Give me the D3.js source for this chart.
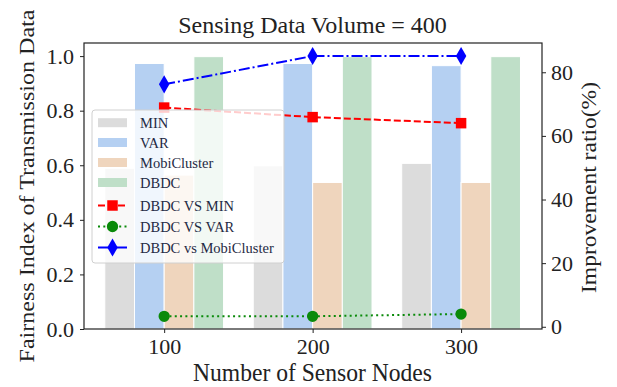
<!DOCTYPE html>
<html>
<head>
<meta charset="utf-8">
<script src="https://cdn.jsdelivr.net/npm/d3@7"></script>
<style>
  body { margin: 0; background: #fff; }
  svg { font-family: "Liberation Serif", "Times New Roman", serif; }
</style>
</head>
<body>
<svg id="chart" width="617" height="387"></svg>
<script>
// categories on the x axis
const nodes = ["100", "200", "300"];

// bar series (left axis, fairness index)
const barNames = ["MIN", "VAR", "MobiCluster", "DBDC"];
const minVals = [0.589, 0.598, 0.607];
const varVals = [0.973, 0.973, 0.965];
const mobiVals = [0.564, 0.537, 0.537];
const dbdcVals = [0.998, 0.998, 0.998];
const barColors = ["#dcdcdc", "#b5d0f2", "#efd5bd", "#bfdfc8"];

// line series (right axis, improvement ratio %)
const vsMin = [68.9, 65.9, 64.0];
const vsVar = [3.3, 3.3, 4.0];
const vsMobi = [76.2, 85.1, 85.1];
const lineNames = ["DBDC VS MIN", "DBDC VS VAR", "DBDC vs MobiCluster"];

const leftTicks = [0.0, 0.2, 0.4, 0.6, 0.8, 1.0];
const rightTicks = [0, 20, 40, 60, 80];

const svg = d3.select("#chart");
const pLeft = 84, pRight = 542, pTop = 43, pBottom = 329;
const serif = "Liberation Serif, Times New Roman, serif";
const ink = "#222";

// x as a continuous index so bars can sit around each tick
const x = d3.scaleLinear().domain([-0.54, 2.545]).range([pLeft, pRight]);
const y = d3.scaleLinear().domain([0, 1.048]).range([pBottom, pTop]);
const y2 = d3.scaleLinear().domain([-0.7, 89.2]).range([pBottom, pTop]);

const barW = 0.2;
const barSeries = [minVals, varVals, mobiVals, dbdcVals];

barSeries.forEach((vals, k) => {
  svg.append("g")
    .selectAll("rect")
    .data(vals)
    .join("rect")
    .attr("x", (d, i) => x(i + (k - 2) * barW))
    .attr("width", x(barW) - x(0))
    .attr("y", d => y(d))
    .attr("height", d => y(0) - y(d))
    .attr("fill", barColors[k])
    .attr("stroke", "#fff")
    .attr("stroke-width", 1);
});

// axes
const gLeft = svg.append("g").attr("transform", `translate(${pLeft},0)`)
  .call(d3.axisLeft(y).tickValues(leftTicks).tickFormat(d3.format(".1f")).tickSize(4).tickPadding(6));
const gRight = svg.append("g").attr("transform", `translate(${pRight},0)`)
  .call(d3.axisRight(y2).tickValues(rightTicks).tickSize(4).tickPadding(5));
const gBottom = svg.append("g").attr("transform", `translate(0,${pBottom})`)
  .call(d3.axisBottom(x).tickValues([0, 1, 2]).tickFormat(i => nodes[i]).tickSize(4).tickPadding(5));

[gLeft, gRight, gBottom].forEach(g => {
  g.attr("font-family", null).attr("font-size", null);
  g.selectAll("text").style("font-family", serif).style("font-size", "22px").attr("fill", ink);
  g.selectAll("line").attr("stroke", ink);
  g.select(".domain").remove();
});

// frame
svg.append("rect")
  .attr("x", pLeft).attr("y", pTop)
  .attr("width", pRight - pLeft).attr("height", pBottom - pTop)
  .attr("fill", "none").attr("stroke", ink).attr("stroke-width", 1.2);

// lines on the twin axis
const line = d3.line().x((d, i) => x(i)).y(d => y2(d));

svg.append("path").datum(vsMin).attr("d", line)
  .attr("fill", "none").attr("stroke", "#ff0000").attr("stroke-width", 2)
  .attr("stroke-dasharray", "7,3");
svg.append("path").datum(vsVar).attr("d", line)
  .attr("fill", "none").attr("stroke", "#0a8a0a").attr("stroke-width", 2)
  .attr("stroke-dasharray", "2,3.3");
svg.append("path").datum(vsMobi).attr("d", line)
  .attr("fill", "none").attr("stroke", "#0000ff").attr("stroke-width", 2)
  .attr("stroke-dasharray", "11,3,2,3");

const sq = d3.symbol().type(d3.symbolSquare).size(110);
const ci = d3.symbol().type(d3.symbolCircle).size(100);
const di = d3.symbol().type(d3.symbolDiamond).size(95);

svg.append("g").selectAll("path").data(vsMin).join("path")
  .attr("d", sq).attr("transform", (d, i) => `translate(${x(i)},${y2(d)})`).attr("fill", "#ff0000");
svg.append("g").selectAll("path").data(vsVar).join("path")
  .attr("d", ci).attr("transform", (d, i) => `translate(${x(i)},${y2(d)})`).attr("fill", "#0a8a0a");
svg.append("g").selectAll("path").data(vsMobi).join("path")
  .attr("d", di).attr("transform", (d, i) => `translate(${x(i)},${y2(d)})`).attr("fill", "#0000ff");

// legend
const lg = svg.append("g");
lg.append("rect")
  .attr("x", 92).attr("y", 110).attr("width", 192).attr("height", 153)
  .attr("rx", 3).attr("fill", "#fff").attr("fill-opacity", 0.8)
  .attr("stroke", "#d0d0d0").attr("stroke-width", 1);

const rowY = [122.7, 142.5, 162.5, 182.5, 205.5, 226.5, 247.5];
const hx0 = 98, hx1 = 127, tx = 140;

barNames.forEach((n, k) => {
  lg.append("rect").attr("x", hx0).attr("y", rowY[k] - 4.5)
    .attr("width", hx1 - hx0).attr("height", 9).attr("fill", barColors[k]);
});

const lineStyle = [
  { c: "#ff0000", dash: "7,3", sym: sq },
  { c: "#0a8a0a", dash: "2,3.3", sym: ci },
  { c: "#0000ff", dash: "11,3,2,3", sym: di }
];
lineNames.forEach((n, k) => {
  const yy = rowY[4 + k];
  const st = lineStyle[k];
  lg.append("line").attr("x1", hx0).attr("x2", hx1).attr("y1", yy).attr("y2", yy)
    .attr("stroke", st.c).attr("stroke-width", 2).attr("stroke-dasharray", st.dash);
  lg.append("path").attr("d", st.sym).attr("transform", `translate(${(hx0 + hx1) / 2},${yy})`)
    .attr("fill", st.c);
});

barNames.concat(lineNames).forEach((n, k) => {
  lg.append("text").attr("x", tx).attr("y", rowY[k]).attr("dy", "0.35em")
    .style("font-size", "14.5px").attr("fill", "#1f2a44").text(n);
});

// titles
svg.append("text").attr("x", 312.5).attr("y", 33)
  .attr("text-anchor", "middle").style("font-size", "24px").attr("fill", ink)
  .text("Sensing Data Volume = 400");
svg.append("text").attr("x", 312.5).attr("y", 381)
  .attr("text-anchor", "middle").style("font-size", "26px").attr("fill", ink)
  .attr("textLength", 239).attr("lengthAdjust", "spacingAndGlyphs")
  .text("Number of Sensor Nodes");
svg.append("text").attr("transform", "translate(34,186) rotate(-90)")
  .attr("text-anchor", "middle").style("font-size", "21px").attr("fill", ink)
  .attr("textLength", 353).attr("lengthAdjust", "spacingAndGlyphs")
  .text("Fairness Index of Transmission Data");
svg.append("text").attr("transform", "translate(596,187.5) rotate(-90)")
  .attr("text-anchor", "middle").style("font-size", "21px").attr("fill", ink)
  .attr("textLength", 211).attr("lengthAdjust", "spacingAndGlyphs")
  .text("Improvement ratio(%)");
</script>
</body>
</html>
